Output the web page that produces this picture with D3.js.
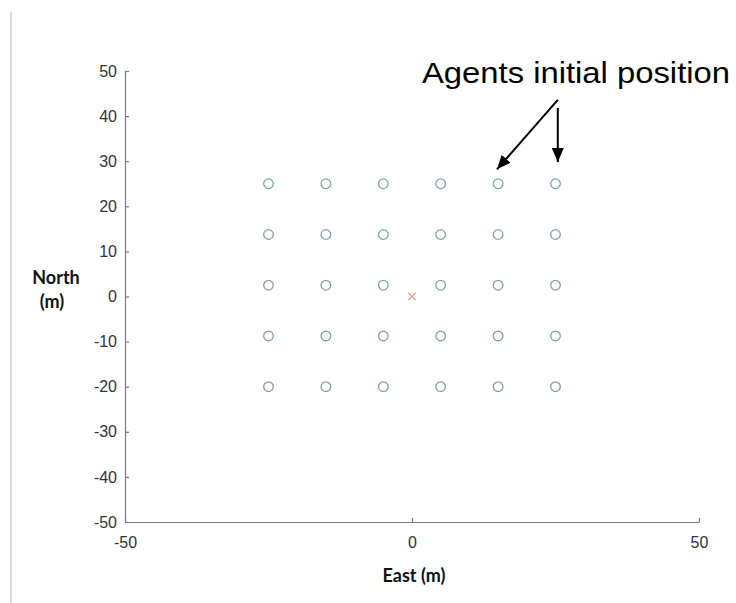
<!DOCTYPE html>
<html>
<head>
<meta charset="utf-8">
<script src="https://cdn.jsdelivr.net/npm/d3@7"></script>
<style>
  html, body { margin: 0; padding: 0; background: #fff; }
  svg { display: block; }
</style>
</head>
<body>
<svg id="chart" width="736" height="603"></svg>
<script>
// Agent grid positions (m)
const eastPositions = [-25, -15, -5, 5, 15, 25];
const northPositions = [25, 13.75, 2.5, -8.75, -20];
// Target / origin marker
const targetEast = [0];
const targetNorth = [0];
// Axis ticks
const xTicks = [-50, 0, 50];
const yTicks = [50, 40, 30, 20, 10, 0, -10, -20, -30, -40, -50];
// Annotation arrows in data units: [east, north]
const arrowFrom = [[25.4, 43.6], [25.4, 41.8]];
const arrowTo = [[14.8, 28.2], [25.4, 29.8]];

const svg = d3.select("#chart");
const x = d3.scaleLinear().domain([-50, 50]).range([125, 699]);
const y = d3.scaleLinear().domain([-50, 50]).range([522, 71]);

// page edge rule on the left
svg.append("line")
  .attr("x1", 11).attr("x2", 11).attr("y1", 12).attr("y2", 603)
  .attr("stroke", "#d9d9d9").attr("stroke-width", 2);

const tickColor = "#7a7a7a";
const labelColor = "#333";
const numFont = "'Liberation Sans', Arial, sans-serif";

// Y axis (ticks inward)
const yAxis = svg.append("g").attr("transform", "translate(125,0)")
  .call(d3.axisLeft(y).tickValues(yTicks).tickFormat(d => String(d))
    .tickSizeInner(-4).tickSizeOuter(0).tickPadding(8));
// X axis (ticks inward)
const xAxis = svg.append("g").attr("transform", "translate(0,522)")
  .call(d3.axisBottom(x).tickValues(xTicks).tickFormat(d => String(d))
    .tickSizeInner(-4).tickSizeOuter(0).tickPadding(15));

[yAxis, xAxis].forEach(g => {
  g.attr("font-family", numFont).attr("font-size", 16);
  g.select(".domain").attr("stroke", tickColor).attr("stroke-width", 1.2);
  g.selectAll(".tick line").attr("stroke", tickColor).attr("stroke-width", 1.2);
  g.selectAll(".tick text").attr("fill", labelColor);
});

// agent markers
const agents = [];
northPositions.forEach(n => eastPositions.forEach(e => agents.push({e, n})));
svg.append("g").selectAll("circle").data(agents).join("circle")
  .attr("cx", d => x(d.e)).attr("cy", d => y(d.n)).attr("r", 4.8)
  .attr("fill", "none").attr("stroke", "#7fa0a6").attr("stroke-width", 1.3);

// origin cross
const cs = 3.6;
targetEast.forEach((e, i) => {
  const cx = x(e), cy = y(targetNorth[i]);
  svg.append("path")
    .attr("d", `M${cx-cs},${cy-cs}L${cx+cs},${cy+cs}M${cx-cs},${cy+cs}L${cx+cs},${cy-cs}`)
    .attr("stroke", "#c99a84").attr("stroke-width", 1.2);
});

// axis titles
const titleFont = "Lato, Carlito, Calibri, sans-serif";
function title(tx, ty, str) {
  svg.append("text").attr("x", tx).attr("y", ty).attr("text-anchor", "middle")
    .attr("font-family", titleFont).attr("font-weight", "bold").attr("font-size", 18)
    .attr("fill", "#111").text(str);
}
title(56, 284, "North");
title(52, 308, "(m)");
title(414, 582, "East (m)");

// annotation
svg.append("defs").append("marker")
  .attr("id", "head").attr("viewBox", "0 0 14 12").attr("refX", 14).attr("refY", 6)
  .attr("markerWidth", 14).attr("markerHeight", 12).attr("markerUnits", "userSpaceOnUse")
  .attr("orient", "auto")
  .append("path").attr("d", "M0,0L14,6L0,12Z").attr("fill", "#000");

svg.append("g").selectAll("line").data(arrowFrom).join("line")
  .attr("x1", d => x(d[0])).attr("y1", d => y(d[1]))
  .attr("x2", (d, i) => x(arrowTo[i][0])).attr("y2", (d, i) => y(arrowTo[i][1]))
  .attr("stroke", "#000").attr("stroke-width", 2).attr("marker-end", "url(#head)");

svg.append("text").attr("x", 422).attr("y", 83)
  .attr("font-family", numFont).attr("font-size", 30)
  .attr("textLength", 308).attr("lengthAdjust", "spacingAndGlyphs")
  .attr("fill", "#000").text("Agents initial position");
</script>
</body>
</html>
